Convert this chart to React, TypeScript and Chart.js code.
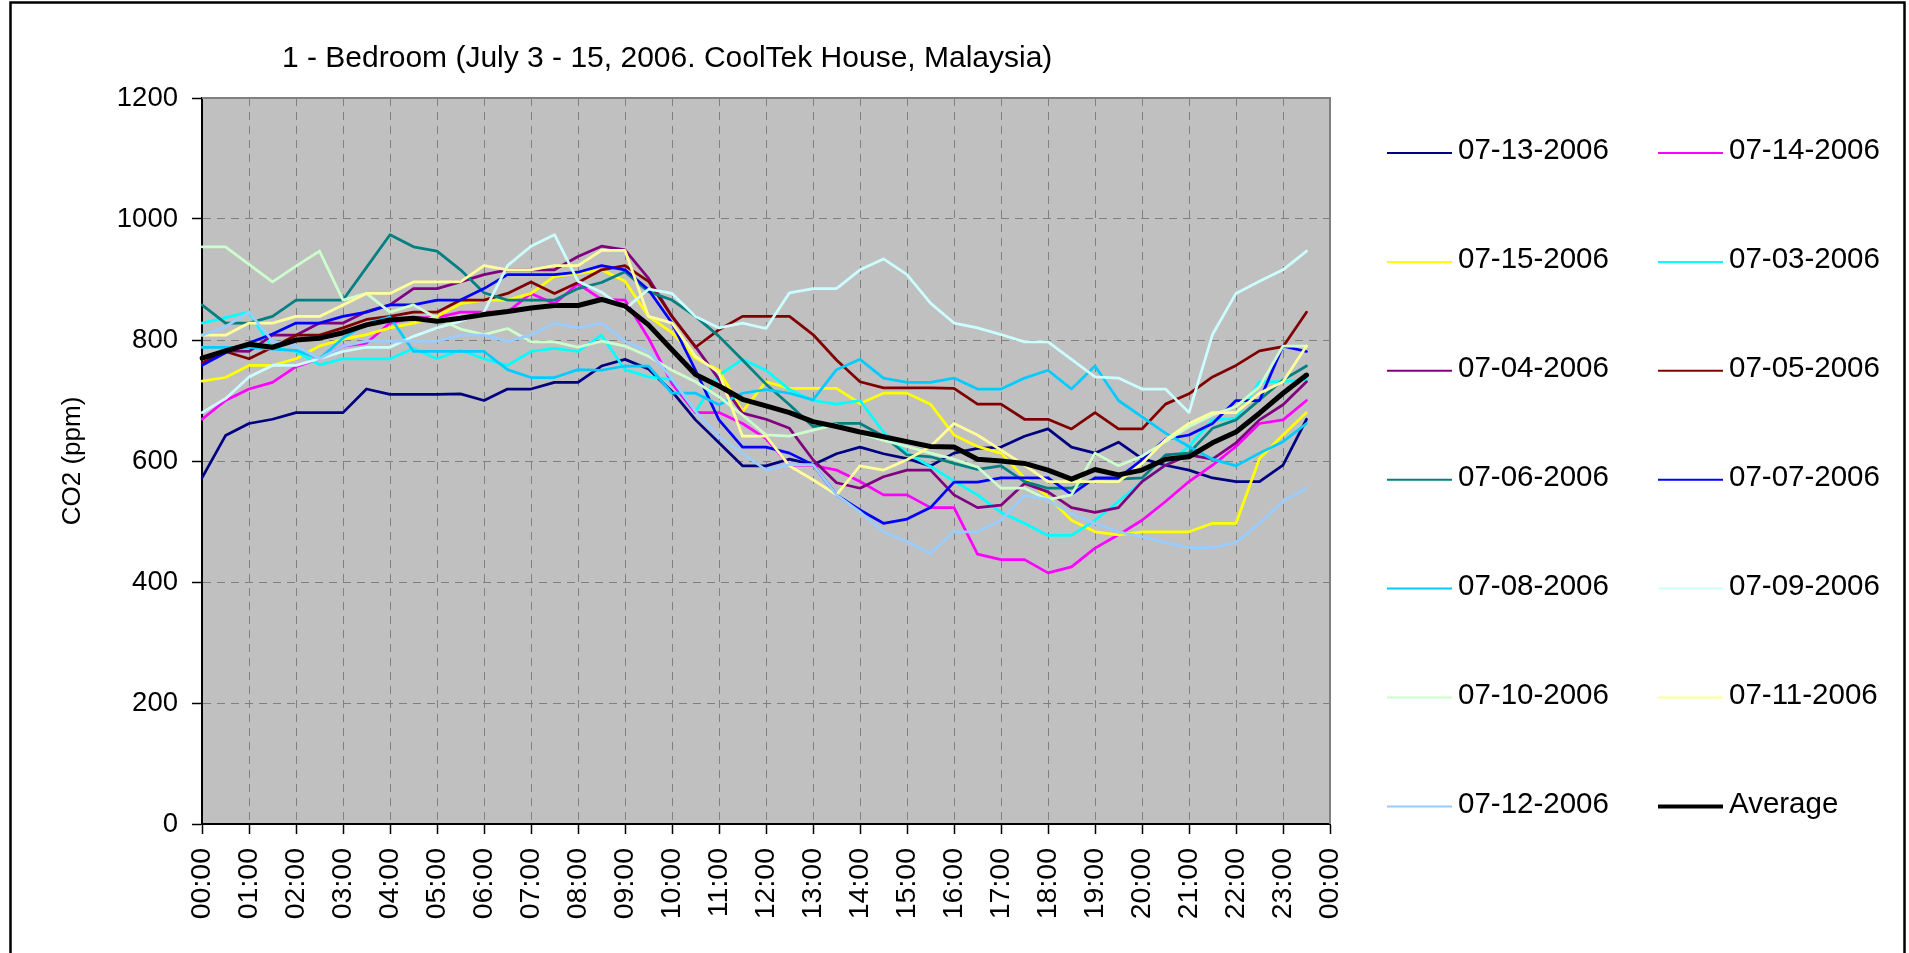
import React, { useEffect, useRef } from 'react';
import { Chart, registerables } from 'chart.js';

Chart.register(...registerables);

const TITLE = '1 - Bedroom (July 3 - 15, 2006. CoolTek House, Malaysia)';
const Y_TITLE = 'CO2 (ppm)';

const TIME_LABELS = [
  '00:00', '00:30', '01:00', '01:30', '02:00', '02:30', '03:00', '03:30',
  '04:00', '04:30', '05:00', '05:30', '06:00', '06:30', '07:00', '07:30',
  '08:00', '08:30', '09:00', '09:30', '10:00', '10:30', '11:00', '11:30',
  '12:00', '12:30', '13:00', '13:30', '14:00', '14:30', '15:00', '15:30',
  '16:00', '16:30', '17:00', '17:30', '18:00', '18:30', '19:00', '19:30',
  '20:00', '20:30', '21:00', '21:30', '22:00', '22:30', '23:00', '23:30',
  '00:00',
];

const D_0713 = [572,642,662,669,680,680,680,719,710,710,710,711,700,719,719,730,730,757,768,752,715,668,630,592,592,603,594,612,623,612,604,592,613,621,623,641,653,623,613,631,604,593,585,572,566,566,593,669];
const D_0714 = [669,700,719,730,756,769,790,795,828,837,837,846,846,846,877,860,893,867,866,803,728,680,680,662,637,593,593,585,566,544,544,523,523,446,437,437,415,425,456,478,502,533,566,593,624,662,668,700];
const D_0715 = [732,738,758,758,769,790,801,809,820,828,839,860,866,866,877,905,910,916,897,839,812,770,750,682,731,720,720,720,695,712,712,694,643,624,613,572,541,502,483,478,483,483,483,497,497,604,643,680];
const D_0703 = [828,837,846,786,781,759,769,769,769,786,769,783,769,758,781,786,781,808,751,739,735,682,742,768,750,718,700,694,700,648,613,591,567,544,515,497,477,477,502,533,566,593,624,668,671,731,731,735];
const D_0704 = [770,782,781,808,808,828,828,847,858,885,885,896,908,916,916,916,938,955,949,902,839,789,735,679,669,654,602,564,555,574,585,585,544,523,527,563,549,523,515,523,566,593,610,603,630,668,693,731];
const D_0705 = [762,781,769,788,808,808,820,834,839,846,846,866,866,877,896,877,895,916,923,897,839,788,817,839,839,839,809,767,731,721,721,721,720,694,694,669,669,653,680,653,653,694,711,739,758,782,789,846];
const D_0706 = [858,828,828,839,866,866,866,920,974,954,947,916,878,866,866,866,885,895,913,880,866,839,806,767,727,693,657,662,662,641,610,607,596,586,592,566,555,555,571,570,572,610,613,654,668,701,734,757];
const D_0707 = [758,779,795,810,828,828,839,846,858,858,866,866,885,908,908,908,912,923,916,883,828,750,668,623,623,613,594,544,519,497,504,523,565,565,572,572,572,545,572,572,602,636,643,662,700,700,790,781];
const D_0708 = [788,788,788,785,783,769,803,827,838,781,781,781,781,751,738,738,751,750,757,757,712,712,693,712,718,712,701,751,768,737,730,730,737,719,719,737,750,719,757,700,673,646,624,603,592,613,632,662];
const D_0709 = [680,703,739,758,758,769,781,788,788,806,820,831,846,923,955,974,897,879,851,884,877,839,820,828,819,878,885,885,916,934,908,861,828,820,809,797,797,768,739,737,719,719,680,809,877,897,916,947];
const D_0710 = [954,954,925,896,922,947,866,877,846,858,836,818,809,819,797,797,788,798,790,773,750,731,706,676,643,641,651,660,646,634,624,613,603,590,555,555,536,544,613,592,608,632,657,676,690,723,790,790];
const D_0711 = [808,808,828,828,839,839,858,877,877,896,896,896,923,916,916,923,923,948,948,839,828,773,746,641,641,592,569,544,592,585,602,624,662,643,618,593,566,566,566,566,596,635,662,680,680,712,731,790];
const D_0712 = [808,822,846,798,790,769,790,798,798,798,798,808,808,798,808,828,820,828,798,781,736,682,640,613,585,594,594,544,516,483,467,447,483,483,502,543,536,513,497,483,475,465,457,457,465,497,533,555];
const D_AVG = [770,782,793,788,800,803,812,825,833,836,831,836,842,847,853,857,857,867,856,825,784,743,724,702,691,680,665,657,648,640,632,624,623,603,600,596,585,570,586,577,585,603,607,630,648,679,712,742];

const SERIES_NAMES = [
  '07-13-2006', '07-14-2006', '07-15-2006', '07-03-2006', '07-04-2006', '07-05-2006', '07-06-2006',
  '07-07-2006', '07-08-2006', '07-09-2006', '07-10-2006', '07-11-2006', '07-12-2006', 'Average',
];
const SERIES_DATA = [
  D_0713, D_0714, D_0715, D_0703, D_0704, D_0705, D_0706,
  D_0707, D_0708, D_0709, D_0710, D_0711, D_0712, D_AVG,
];
const SERIES_COLORS = [
  '#000080', '#FF00FF', '#FFFF00', '#00FFFF', '#800080', '#800000', '#008080',
  '#0000FF', '#00CCFF', '#CCFFFF', '#CCFFCC', '#FFFF99', '#99CCFF', '#000000',
];

const FONT = "'Liberation Sans', Arial, Helvetica, sans-serif";

const W = 1909;
const H = 953;

const bgPlugin = {
  id: 'excelBg',
  beforeDraw(chart: any) {
    const { ctx, chartArea } = chart;
    ctx.save();
    ctx.fillStyle = '#ffffff';
    ctx.fillRect(0, 0, chart.width, chart.height);
    ctx.fillStyle = '#C0C0C0';
    ctx.fillRect(chartArea.left, chartArea.top, chartArea.right - chartArea.left, chartArea.bottom - chartArea.top);
    ctx.restore();
  },
  beforeDatasetsDraw(chart: any) {
    const { ctx, chartArea } = chart;
    ctx.save();
    ctx.strokeStyle = '#808080';
    ctx.lineWidth = 2;
    ctx.beginPath();
    ctx.moveTo(chartArea.left, chartArea.top);
    ctx.lineTo(chartArea.right, chartArea.top);
    ctx.lineTo(chartArea.right, chartArea.bottom);
    ctx.stroke();
    ctx.restore();
  },
  afterDraw(chart: any) {
    const { ctx } = chart;
    ctx.save();
    // outer chart border
    ctx.strokeStyle = '#000000';
    ctx.lineWidth = 2.5;
    ctx.strokeRect(10.5, 2.5, 1894, 1000);
    // title
    ctx.fillStyle = '#000000';
    ctx.font = `30px ${FONT}`;
    ctx.textAlign = 'left';
    ctx.textBaseline = 'alphabetic';
    ctx.fillText(TITLE, 282, 67);
    // legend (2 columns, row-major)
    ctx.font = `29.5px ${FONT}`;
    ctx.textBaseline = 'middle';
    chart.data.datasets.forEach((ds: any, k: number) => {
      const col = k % 2;
      const row = Math.floor(k / 2);
      const x0 = col === 0 ? 1387 : 1658;
      const y = 151 + row * 108.9;
      ctx.strokeStyle = ds.borderColor;
      ctx.lineWidth = ds.label === 'Average' ? 4 : 2;
      ctx.beginPath();
      ctx.moveTo(x0, y + 2);
      ctx.lineTo(x0 + 65, y + 2);
      ctx.stroke();
      ctx.fillStyle = '#000000';
      ctx.fillText(ds.label, x0 + 71, y);
    });
    ctx.restore();
  },
};

export default function App() {
  const ref = useRef<HTMLCanvasElement>(null);

  useEffect(() => {
    if (!ref.current) return;
    const n = SERIES_NAMES.length;
    const chart = new Chart(ref.current, {
      type: 'line',
      data: {
        labels: TIME_LABELS,
        datasets: SERIES_NAMES.map((name, k) => ({
          label: name,
          data: SERIES_DATA[k],
          borderColor: SERIES_COLORS[k],
          backgroundColor: SERIES_COLORS[k],
          borderWidth: name === 'Average' ? 5 : 2.75,
          pointRadius: 0,
          tension: 0,
          fill: false,
          order: n - k,
        })),
      },
      options: {
        responsive: false,
        animation: false,
        events: [],
        layout: { padding: { left: 42, right: 579, top: 98, bottom: 0 } },
        plugins: {
          legend: { display: false },
          title: { display: false },
          tooltip: { enabled: false },
        },
        elements: {
          line: { borderJoinStyle: 'round', borderCapStyle: 'round' },
          point: { radius: 0 },
        },
        scales: {
          x: {
            type: 'category',
            offset: false,
            grid: {
              color: (c: any) => (c.index % 2 === 0 ? '#808080' : 'rgba(0,0,0,0)'),
              lineWidth: 1,
              tickLength: 10,
              tickColor: (c: any) => (c.index % 2 === 0 ? '#000000' : 'rgba(0,0,0,0)'),
              tickWidth: 1.5,
              tickBorderDash: [],
            },
            border: { display: true, color: '#000000', width: 2, dash: [8, 6] },
            ticks: {
              autoSkip: false,
              minRotation: 90,
              maxRotation: 90,
              padding: 14,
              color: '#000000',
              font: { family: FONT, size: 28.5 },
              callback: (_v: any, i: number) => (i % 2 === 0 ? TIME_LABELS[i] : ''),
            },
            afterFit: (s: any) => {
              s.height = 129;
            },
          },
          y: {
            min: 0,
            max: 1200,
            grid: {
              color: '#808080',
              lineWidth: 1,
              tickLength: 10,
              tickColor: '#000000',
              tickWidth: 1.5,
              tickBorderDash: [],
            },
            border: { display: true, color: '#000000', width: 2, dash: [8, 6] },
            ticks: {
              stepSize: 200,
              padding: 14,
              color: '#000000',
              font: { family: FONT, size: 27.5 },
              callback: (v: any) => String(v),
            },
            title: {
              display: true,
              text: Y_TITLE,
              color: '#000000',
              font: { family: FONT, size: 26 },
              padding: { top: 15, bottom: 0 },
            },
            afterFit: (s: any) => {
              s.width = 160;
            },
          },
        },
      },
      plugins: [bgPlugin],
    } as any);
    return () => chart.destroy();
  }, []);

  return (
    <div style={{ position: 'fixed', left: 0, top: 0, width: W, height: H, background: '#fff', overflow: 'hidden' }}>
      <canvas ref={ref} width={W} height={H} style={{ display: 'block', width: W, height: H }} />
    </div>
  );
}
